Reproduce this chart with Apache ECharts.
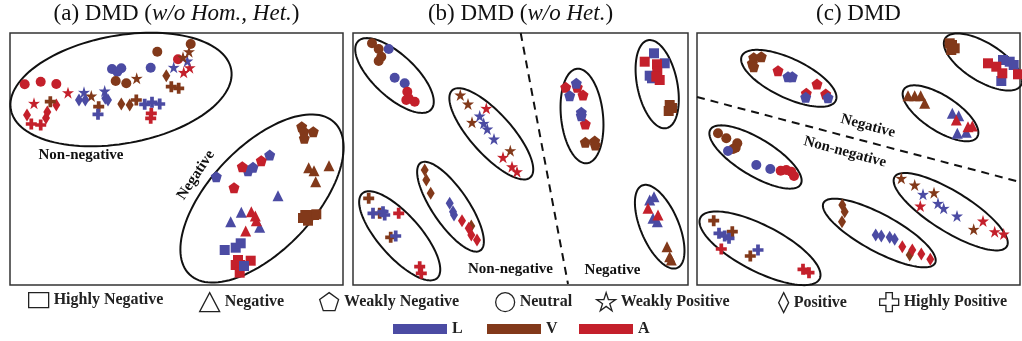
<!DOCTYPE html>
<html><head><meta charset="utf-8">
<script src="https://cdn.jsdelivr.net/npm/echarts@6/dist/echarts.min.js"></script>
<style>html,body{margin:0;padding:0;background:#fff}#c{width:1022px;height:341px}</style>
</head><body><div id="c"></div>
<script>
// ---------------- data ----------------
const sentiments = ['Highly Negative','Negative','Weakly Negative','Neutral','Weakly Positive','Positive','Highly Positive'];
const modalities = ['L','V','A'];
const panelTitles = [
  ['(a) DMD (', 'w/o Hom., Het.', ')'],
  ['(b) DMD (', 'w/o Het.', ')'],
  ['(c) DMD', '', '']
];
// embedding-space ranges of each panel [xmin, xmax, ymin, ymax]
const panelRanges = [[10,343,33,285],[353,688,33,285],[697,1020,33,285]];

// points: [sentimentIndex, modality, x, y]
const pointsA = [
  [3,'A',24.7,84.3],[3,'A',40.7,81.7],[3,'A',56.3,84],[3,'A',178,59.3],
  [4,'A',68,92.7],[4,'A',34,103.3],[4,'A',183.7,72.3],[4,'A',189.7,67.7],
  [5,'A',27,115],[5,'A',47.3,112],[5,'A',56.3,105],[5,'A',46,118],
  [6,'A',31.3,124],[6,'A',40.7,125],[6,'A',151.3,113.3],[6,'A',150.7,118.3],
  [5,'L',79,100],[5,'L',85.3,100],[5,'L',105.3,98.3],[5,'L',108,100],
  [4,'L',84,92.3],[4,'L',104.7,91],[4,'L',173.7,67.3],[4,'L',187.3,61],
  [4,'V',91.3,96],[4,'V',136.7,78.3],[4,'V',183,57.3],[4,'V',189,51.7],
  [6,'V',98.7,106.7],[6,'V',136.3,100],[6,'V',171.3,86.7],[6,'V',178.7,88.3],[6,'V',50.3,101.7],
  [6,'L',98,114.3],[6,'L',144.7,104.3],[6,'L',152,102.3],[6,'L',159.7,104],
  [3,'L',112,69],[3,'L',121.3,68.3],[3,'L',117.3,71.7],[3,'L',150.7,67.7],
  [3,'V',115.7,81],[3,'V',126.3,83.3],[3,'V',157.3,51.7],[3,'V',190.7,44],
  [5,'V',166.3,75.7],[5,'V',121.3,104],[5,'V',129.7,105],
  [2,'V',301.7,126.7],[2,'V',304,131.7],[2,'V',313.3,131.7],[2,'V',304.3,138.3],
  [2,'L',269.7,155],[2,'L',248,170.7],[2,'L',253,167.3],[2,'L',216.3,176.7],
  [2,'A',261.3,160.7],[2,'A',242.3,166.7],[2,'A',234,187.7],
  [1,'V',308.7,167.7],[1,'V',314,170.7],[1,'V',329,165.7],[1,'V',315.7,181.7],
  [1,'L',278,195.7],[1,'L',241.3,212.3],[1,'L',230.7,221.7],[1,'L',259.7,227.3],
  [1,'A',251.3,211.7],[1,'A',255.3,216],[1,'A',256.3,220.7],[1,'A',245.7,231],
  [0,'V',305.3,215],[0,'V',314,215],[0,'V',308,220.7],[0,'V',316.3,214.3],[0,'V',303,218],
  [0,'L',224.7,250],[0,'L',235.7,247.7],[0,'L',240.7,243.3],
  [0,'A',238,260],[0,'A',250.7,260.7],[0,'A',235.7,265],[0,'A',240.3,265],[0,'A',239.7,272.7],
  [0,'L',244,266]
];
const pointsB = [
  [3,'V',372,43.3],[3,'V',378.7,49],[3,'V',381.3,56.7],[3,'V',378.7,61],
  [3,'L',388.7,49],[3,'L',394.7,77.7],[3,'L',404.7,83.3],
  [3,'A',407.3,91.7],[3,'A',408.7,98.3],[3,'A',414.7,101.7],[3,'A',406.3,100],
  [4,'V',460.3,95],[4,'V',468,104],[4,'V',472,122.3],[4,'V',510.3,150.7],
  [4,'A',486.3,108.3],[4,'A',503,157.3],[4,'A',512,166.7],[4,'A',517,171.7],
  [4,'L',479.7,116],[4,'L',483.7,123.3],[4,'L',487.3,129],[4,'L',494,139],
  [2,'A',565.7,87.3],[2,'A',577.3,87.3],[2,'A',583,95],[2,'A',585.3,124],
  [2,'L',576.3,83.3],[2,'L',569.7,95.7],[2,'L',581.3,112.3],[2,'L',581.3,115.7],
  [2,'V',585.3,142.3],[2,'V',594.7,141],[2,'V',595.3,145],
  [0,'L',654,53.3],[0,'L',664.7,63.3],[0,'L',649.7,75.7],[0,'L',652,78.3],
  [0,'A',644.7,61.7],[0,'A',657,64.3],[0,'A',657.3,71.7],[0,'A',659.7,80],[0,'A',656.3,76.7],
  [0,'V',669.7,105],[0,'V',668.7,111],[0,'V',672,108],
  [6,'V',368.7,198.3],[6,'V',379.7,213.3],[6,'V',390.7,237.3],
  [6,'L',373,213.3],[6,'L',383,211.7],[6,'L',384.7,215],[6,'L',395.7,236],
  [6,'A',398.7,213.3],[6,'A',419.7,266.7],[6,'A',421.3,273.3],
  [5,'V',424.7,170],[5,'V',426.3,180],[5,'V',430.7,193.3],[5,'V',471.3,226],
  [5,'L',449.7,203.3],[5,'L',453,211.7],[5,'L',454,215],
  [5,'A',462,220.7],[5,'A',468.7,228.3],[5,'A',471.3,235],[5,'A',477,240],
  [1,'L',649.7,200],[1,'L',654,196.7],[1,'L',653,218.3],[1,'L',657.3,221.7],
  [1,'A',648,208.3],[1,'A',658,215],
  [1,'V',667,246.7],[1,'V',669.7,256.7],[1,'V',671.3,260]
];
const pointsC = [
  [2,'V',753.7,57.7],[2,'V',761.3,56.7],[2,'V',752.3,63.3],[2,'V',753.7,66.7],
  [2,'A',778,70.7],[2,'A',817,84],[2,'A',806.3,93.3],[2,'A',825.7,94],
  [2,'L',788,76.7],[2,'L',792.3,76.7],[2,'L',805.7,97.3],[2,'L',828,97.7],
  [0,'V',949.7,43.3],[0,'V',954.7,48.3],[0,'V',951.3,50],[0,'V',952,45],
  [0,'L',1003,60],[0,'L',1009.7,61.7],[0,'L',1013.7,65],[0,'L',1001.3,81],
  [0,'A',988,63.3],[0,'A',996.3,66.7],[0,'A',1002.3,73.3],[0,'A',1018,74.3],
  [1,'V',908,95.7],[1,'V',914.7,95.7],[1,'V',920.7,95.7],[1,'V',924.7,103.3],
  [1,'L',952.3,113.3],[1,'L',958.7,115.7],[1,'L',957.3,133.3],[1,'L',966.3,132.3],
  [1,'A',956.3,120],[1,'A',968,126.7],[1,'A',972.3,126],
  [3,'V',718,133.3],[3,'V',726.3,138.3],[3,'V',737.3,143.3],[3,'V',735.7,147.7],[3,'V',733,149],
  [3,'L',728,151],[3,'L',756.3,165],[3,'L',770.3,169],
  [3,'A',780.7,170.7],[3,'A',786.3,170],[3,'A',791.3,171.7],[3,'A',794,176],
  [6,'V',713.7,220.7],[6,'V',732.3,231.7],[6,'V',750.3,256],
  [6,'L',719,233.3],[6,'L',724.7,236],[6,'L',729,238.3],[6,'L',758,250],
  [6,'A',721.3,249],[6,'A',803,269.3],[6,'A',809,272.7],
  [5,'V',842.3,205],[5,'V',844.7,211.7],[5,'V',842,221.7],[5,'V',909.7,255],
  [5,'L',875.7,235],[5,'L',881.3,236],[5,'L',889.7,237.3],[5,'L',894.7,239.3],
  [5,'A',902.3,246.7],[5,'A',912.3,250],[5,'A',921.3,254],[5,'A',930.3,259.3],
  [4,'V',901.3,178.3],[4,'V',914.7,185],[4,'V',934,192.7],[4,'V',973.7,229.3],
  [4,'L',923,194.3],[4,'L',938,203.3],[4,'L',943.7,208.3],[4,'L',957,216],
  [4,'A',920.3,206],[4,'A',983,221],[4,'A',994.7,231.7],[4,'A',1003.7,234]
];
// cluster ellipses: [cx, cy, semiMajor, semiMinor, angleDeg]
const ellipsesA = [[121,89.5,112,54,10.3],[262,198.5,105,52,46.4]];
const ellipsesB = [[394.5,75.5,50,21,-43],[491.3,133.8,58.5,20.5,-48.1],[582,116,47.5,21,-84],
                   [657.2,84.2,44.9,20,-78.2],[399.7,235.8,56.5,21,-48.6],[450.5,206.7,53,18,-55.7],[659.7,226.7,44.8,19,-66.9]];
const ellipsesC = [[788.8,78.3,52,19.5,-25.5],[983,62,44.6,19,-31.9],[940.5,113.3,43.7,17.5,-33],
                   [755.5,157,52.8,18.5,-31.3],[760,248.3,67,23,-27.2],[879.3,233,63.4,18.5,-28.5],[950.7,211.7,66,20,-31.8]];
// dashed boundaries
const dividerB = [[520.7,33],[568,284]];
const dividerC = [[697,97],[1020,182]];
// region labels: [x, y, text, angleDeg]
const labelsA = [[81,155,'Non-negative',0],[196,175,'Negative',56.6]];
const labelsB = [[510.5,269,'Non-negative',0],[612.5,270,'Negative',0]];
const labelsC = [[868,126,'Negative',-15],[845,152,'Non-negative',-15]];

// ---------------- styling ----------------
const colors = {L:'#4b4ba3', V:'#82391a', A:'#c4202b'};
const pentagon = 'path://M50,0 L100,36 L81,95 L19,95 L0,36 Z';
const star = 'path://M50,0 L61.2,34.6 L97.6,34.5 L68.1,55.9 L79.4,90.5 L50,69 L20.6,90.5 L31.9,55.9 L2.4,34.5 L38.8,34.6 Z';
const cross = 'path://M33,0 H67 V33 H100 V67 H67 V100 H33 V67 H0 V33 H33 Z';
const diamondTall = 'path://M5,0 L10,10 L5,20 L0,10 Z';
const symbols = ['rect','triangle',pentagon,'circle',star,'diamond',cross];
const sizes = [10,11,11,10,12,[8,13],11];
const serif = '"Liberation Serif","Times New Roman",serif';

const panels = [
  {points:pointsA, ellipses:ellipsesA, divider:null, labels:labelsA},
  {points:pointsB, ellipses:ellipsesB, divider:dividerB, labels:labelsB},
  {points:pointsC, ellipses:ellipsesC, divider:dividerC, labels:labelsC}
];

const grids=[], xAxes=[], yAxes=[], series=[], titles=[];
panels.forEach((p,i)=>{
  const r = panelRanges[i];
  grids.push({left:r[0], top:r[2], width:r[1]-r[0], height:r[3]-r[2], show:true, borderColor:'#333', borderWidth:1.5, backgroundColor:'#fff'});
  xAxes.push({type:'value', gridIndex:i, min:r[0], max:r[1], show:false});
  yAxes.push({type:'value', gridIndex:i, min:r[2], max:r[3], inverse:true, show:false});
  titles.push({
    text: '{n|'+panelTitles[i][0]+'}' + (panelTitles[i][1]?'{i|'+panelTitles[i][1]+'}':'') + (panelTitles[i][2]?'{n|'+panelTitles[i][2]+'}':''),
    left:(r[0]+r[1])/2, top:2, textAlign:'center', padding:0,
    textStyle:{fontWeight:'normal', rich:{
      n:{fontFamily:serif,fontSize:23,fontWeight:'normal',color:'#111'},
      i:{fontFamily:serif,fontSize:23,fontWeight:'normal',fontStyle:'italic',color:'#111'}}}
  });
  series.push({
    type:'custom', xAxisIndex:i, yAxisIndex:i, silent:true, z:1,
    data:p.ellipses,
    renderItem:(params, api)=>{
      const cx=api.value(0), cy=api.value(1), a=api.value(2), b=api.value(3), th=api.value(4)*Math.PI/180;
      const pts=[];
      for(let k=0;k<120;k++){
        const t=k/120*2*Math.PI;
        const dx=a*Math.cos(t)*Math.cos(th)-b*Math.sin(t)*Math.sin(th);
        const dy=a*Math.cos(t)*Math.sin(th)+b*Math.sin(t)*Math.cos(th);
        pts.push(api.coord([cx+dx, cy-dy]));
      }
      return {type:'polygon', shape:{points:pts}, style:{fill:'none', stroke:'#111', lineWidth:2}};
    }
  });
  if(p.divider){
    series.push({type:'line', xAxisIndex:i, yAxisIndex:i, data:p.divider, symbol:'none', silent:true, z:1,
      lineStyle:{color:'#111', width:2, type:[8,6]}});
  }
  series.push({
    type:'custom', xAxisIndex:i, yAxisIndex:i, silent:true, z:5,
    data:p.labels.map(l=>[l[0],l[1]]),
    renderItem:(params, api)=>{
      const l=p.labels[params.dataIndex];
      const c=api.coord([api.value(0), api.value(1)]);
      return {type:'text', x:c[0], y:c[1], rotation:l[3]*Math.PI/180,
        style:{text:l[2], fill:'#111', font:'bold 15px '+serif, align:'center', verticalAlign:'middle'}};
    }
  });
  sentiments.forEach((s,si)=>{
    series.push({
      name:s, type:'scatter', xAxisIndex:i, yAxisIndex:i, z:3,
      symbol:symbols[si], symbolSize:sizes[si], itemStyle:{opacity:1},
      emphasis:{disabled:true},
      data:p.points.filter(pt=>pt[0]===si).map(pt=>({value:[pt[2],pt[3]], itemStyle:{color:colors[pt[1]], opacity:1}}))
    });
  });
});
modalities.forEach(m=>{
  series.push({name:m, type:'scatter', xAxisIndex:0, yAxisIndex:0, data:[], itemStyle:{color:colors[m], opacity:1}});
});

// legends
const legendText = {fontFamily:serif, fontWeight:'bold', fontSize:16, color:'#222'};
const shapeLegend = [
  {left:28, icon:'rect', w:20, h:15},
  {left:199, icon:'triangle', w:20, h:19},
  {left:319, icon:pentagon, w:20, h:18},
  {left:495, icon:'circle', w:19, h:19},
  {left:596, icon:star, w:19, h:19},
  {left:778, icon:diamondTall, w:10, h:20},
  {left:879, icon:cross, w:19, h:19}
];
const legends = shapeLegend.map((d,i)=>({
  left:d.left, top:292, padding:0, itemWidth:d.w, itemHeight:d.h, selectedMode:false,
  textStyle:legendText,
  data:[{name:sentiments[i], icon:d.icon, itemStyle:{color:'#fff', borderColor:'#222', borderWidth:1.3, opacity:1}}]
}));
const modLegendLeft = [393,487,579];
modalities.forEach((m,i)=>{
  legends.push({left:modLegendLeft[i], top:321, padding:0, itemWidth:54, itemHeight:10, selectedMode:false,
    textStyle:legendText, data:[{name:m, icon:'rect', itemStyle:{color:colors[m], opacity:1}}]});
});

const chart = echarts.init(document.getElementById('c'), null, {renderer:'canvas'});
chart.setOption({
  animation:false,
  backgroundColor:'#fff',
  title:titles,
  legend:legends,
  grid:grids, xAxis:xAxes, yAxis:yAxes,
  series:series
});
</script></body></html>
